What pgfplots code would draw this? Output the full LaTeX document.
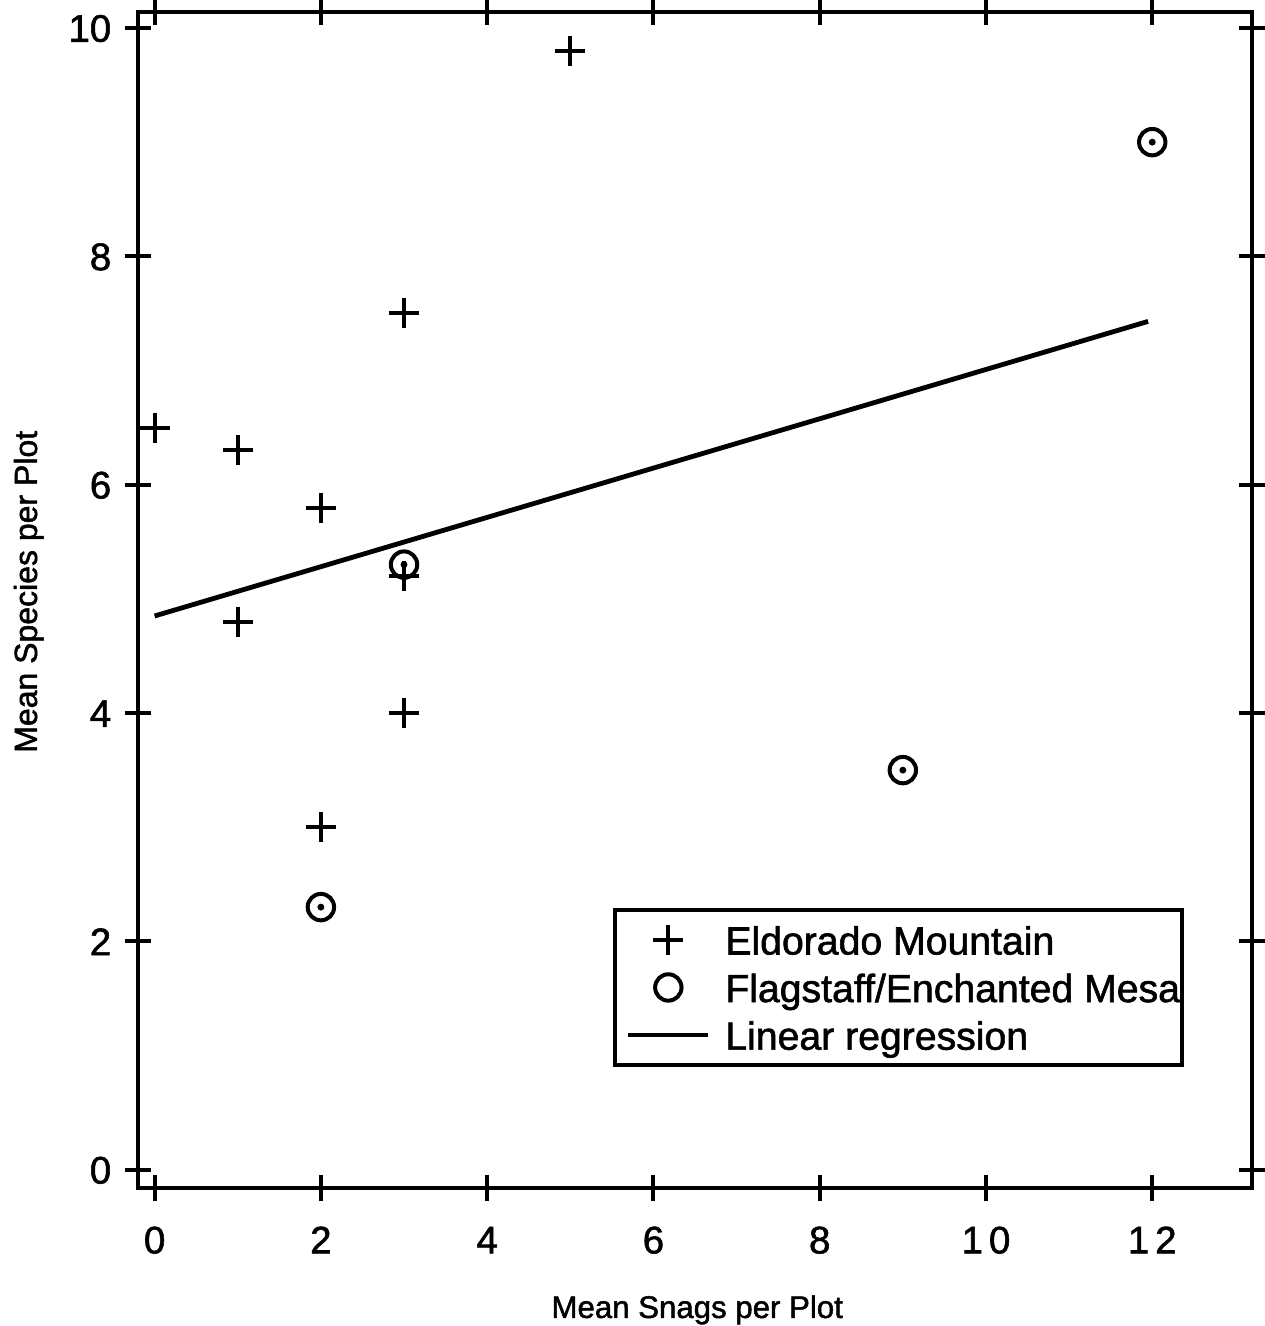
\documentclass[border=0pt]{standalone}
\usepackage{fontspec}
\setmainfont{Liberation Sans}[FakeBold=1.5]
\usepackage{pgfplots}
\pgfplotsset{compat=1.18}
\pgfplotsset{
  markleg/.style={legend image code/.code={\path[draw=none,fill=none] (-3.25pt,0pt) rectangle (23.75pt,0pt);\draw[##1] plot coordinates {(10pt,0pt)};}},
  lineleg/.style={legend image code/.code={\path[draw=none,fill=none] (-3.25pt,0pt) rectangle (23.75pt,0pt);\draw[##1, line width=0.9pt] (0pt,0pt) -- (20pt,0pt);}},
}
\begin{document}
\begin{tikzpicture}
\path[use as bounding box] (-34.5pt,-34.5pt) rectangle (281.5pt,297pt);
\begin{axis}[
  at={(0pt,0pt)}, anchor=south west,
  scale only axis, width=278.5pt, height=294pt,
  xmin=-0.2, xmax=13.2, ymin=-0.16, ymax=10.14,
  axis line style={line width=1.1pt},
  every tick/.style={line width=1pt, black},
  major tick length=6.5pt, tick align=center,
  xtick={0,2,4,6,8,10,12}, ytick={0,2,4,6,8,10},
  xticklabels={0,2,4,6,8,1\kern1.5pt0,1\kern1.5pt2},
  yticklabels={0,2,4,6,8,10},
  xtick pos=both, ytick pos=both,
  xticklabel style={font=\fontsize{9.6}{11}\selectfont, inner sep=0pt, text height=6.9pt, text depth=0pt, anchor=north, yshift=-6pt},
  yticklabel style={font=\fontsize{9.6}{11}\selectfont, inner sep=0pt, text height=6.9pt, text depth=0pt, anchor=east, xshift=-3.25pt},
  xticklabel shift=0pt, yticklabel shift=0pt,
  xlabel={Mean Snags per Plot},
  ylabel={Mean Species per Plot},
  every axis x label/.style={at={(axis description cs:0.502,-0.1105)}, anchor=base, font=\fontsize{7.8}{9}\selectfont, inner sep=0pt},
  every axis y label/.style={at={(axis description cs:-0.0907,0.507)}, rotate=90, anchor=base, font=\fontsize{8}{9.6}\selectfont, inner sep=0pt},
  legend style={at={(axis description cs:0.939,0.103)}, anchor=south east, draw=black, line width=1pt, fill=white,
    font=\fontsize{9.8}{11.6}\selectfont, inner xsep=0pt, inner ysep=1.5pt, row sep=0pt,
    nodes={inner xsep=0.5pt, inner ysep=1.5pt, text height=8.1pt, text depth=0.8pt}},
  legend cell align=left,
  clip=false,
]
\addplot[only marks, mark=+, mark size=3.75pt, line width=1pt, black, markleg]
  coordinates {(0,6.5) (1,6.3) (1,4.8) (2,5.8) (2,3.0) (3,7.5) (3,5.2) (3,4.0) (5,9.8)};
\addlegendentry{Eldorado Mountain}
\addplot[only marks, mark=o, mark size=3.3pt, line width=1pt, black, markleg]
  coordinates {(2,2.3) (3,5.3) (9,3.5) (12,9.0)};
\addlegendentry{Flagstaff/Enchanted Mesa}
\addplot[only marks, mark=*, mark size=0.65pt, black, forget plot]
  coordinates {(2,2.3) (3,5.3) (9,3.5) (12,9.0)};
\addplot[black, line width=1.2pt, mark=none, lineleg]
  coordinates {(0,4.85) (11.95,7.43)};
\addlegendentry{Linear regression}
\end{axis}
\end{tikzpicture}
\end{document}
